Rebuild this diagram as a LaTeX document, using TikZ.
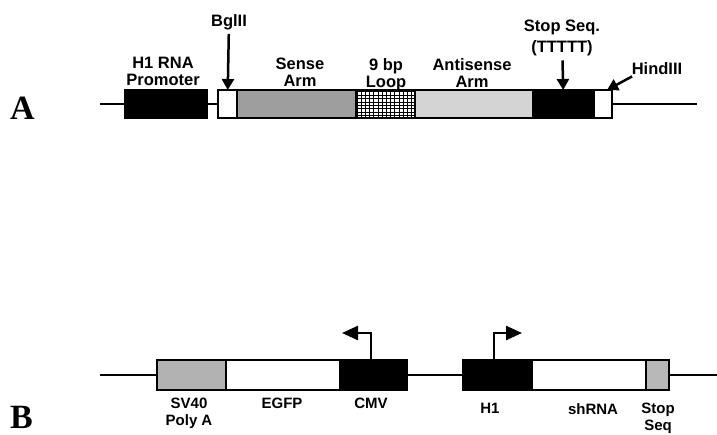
\documentclass[tikz,border=0pt]{standalone}
\usepackage{fontspec}
\setmainfont{Liberation Sans}
\newfontfamily\panelfont{Liberation Serif}
\usetikzlibrary{arrows.meta}

\tikzset{
  seg/.style={draw, line width=2.5pt, inner sep=0pt, outer sep=0pt, anchor=west, minimum height=28pt},
  segb/.style={seg, minimum height=30pt},
  dna/.style={line width=2.5pt},
  lbl/.style={font=\bfseries\fontsize{16.5}{17}\selectfont, align=center, inner sep=0pt, anchor=north},
  lblb/.style={font=\bfseries\fontsize{15}{17}\selectfont, align=center, inner sep=0pt, anchor=north},
  pointer/.style={line width=2.5pt, shorten <=4pt, -{Triangle[length=11pt,width=12pt]}},
  bent/.style={line width=2.5pt, -{Triangle[length=16pt,width=14pt]}},
  panel/.style={font=\panelfont\bfseries\fontsize{34}{34}\selectfont, inner sep=0pt, anchor=base west}
}

\begin{document}
\begin{tikzpicture}[x=1pt, y=-1pt]
  \useasboundingbox (0,0) rectangle (717,434);

  \node[panel] (pa) at (10,119) {A};
  \node[panel] (pb) at (10,428) {B};

  \coordinate (astart) at (100,104);
  \coordinate (aend) at (697,104);
  \node[seg, fill=black, minimum width=82pt] (hone) at (125,104) {};
  \node[seg, fill=white, minimum width=19pt] (bglbox) at (218,104) {};
  \node[seg, fill=black!38, minimum width=119pt] (sense) at (237,104) {};
  \node[seg, fill=white, minimum width=59pt] (loop) at (356,104) {};
  \node[seg, fill=black!17, minimum width=118pt] (anti) at (415,104) {};
  \node[seg, fill=black, minimum width=61pt] (stopa) at (533,104) {};
  \node[seg, fill=white, minimum width=18pt] (hindbox) at (594,104) {};
  \begin{scope}
    \clip (loop.south west) rectangle (loop.north east);
    \draw[black, line width=1pt, xstep=4.2pt, ystep=3.4pt] (loop.south west) grid (loop.north east);
  \end{scope}
  \draw[line width=2.5pt] (loop.south west) rectangle (loop.north east);
  \draw[dna] (astart) -- (hone);
  \draw[dna] (hone) -- (bglbox);
  \draw[dna] (hindbox) -- (aend);

  \node[lbl] (honel) at (163,57) {H1 RNA\\Promoter};
  \node[lbl] (bgl) at (229,14) {BglII};
  \node[lbl] (sensel) at (300,58) {Sense\\Arm};
  \node[lbl] (loopl) at (386,58) {9 bp\\Loop};
  \node[lbl] (antil) at (472,58) {Antisense\\Arm};
  \node[lbl] (stopl) at (562,20) {Stop Seq.\\[4pt](TTTTT)};
  \node[lbl] (hindl) at (657,62) {HindIII};
  \draw[pointer] (bgl) -- (bglbox);
  \draw[pointer] (stopl) -- (stopa);
  \draw[pointer] ([xshift=4pt]hindl.south west) -- ([xshift=-5pt]hindbox.north east);

  \coordinate (bstart) at (100,375);
  \coordinate (bend) at (717,375);
  \node[segb, fill=black!30, minimum width=69pt] (sv40) at (157,375) {};
  \node[segb, fill=white, minimum width=114pt] (egfp) at (226,375) {};
  \node[segb, fill=black, minimum width=67pt] (cmv) at (340,375) {};
  \node[segb, fill=black, minimum width=69pt] (honeb) at (463,375) {};
  \node[segb, fill=white, minimum width=114pt] (shrna) at (532,375) {};
  \node[segb, fill=black!28, minimum width=23pt] (stopb) at (646,375) {};
  \draw[dna] (bstart) -- (sv40);
  \draw[dna] (cmv) -- (honeb);
  \draw[dna] (stopb) -- (bend);

  \coordinate (cmvtip) at (342,333);
  \coordinate (honetip) at (522,333);
  \draw[bent] ([xshift=-2.5pt]cmv.north) |- (cmvtip);
  \draw[bent] ([xshift=-3.5pt]honeb.north) |- (honetip);

  \node[lblb] (sv40l) at (189,398) {SV40\\Poly A};
  \node[lblb] (egfpl) at (282,398) {EGFP};
  \node[lblb] (cmvl) at (371,398) {CMV};
  \node[lblb] (honebl) at (490,403) {H1};
  \node[lblb] (shrnal) at (593,403) {shRNA};
  \node[lblb] (stopbl) at (658,403) {Stop\\Seq};
\end{tikzpicture}
\end{document}
